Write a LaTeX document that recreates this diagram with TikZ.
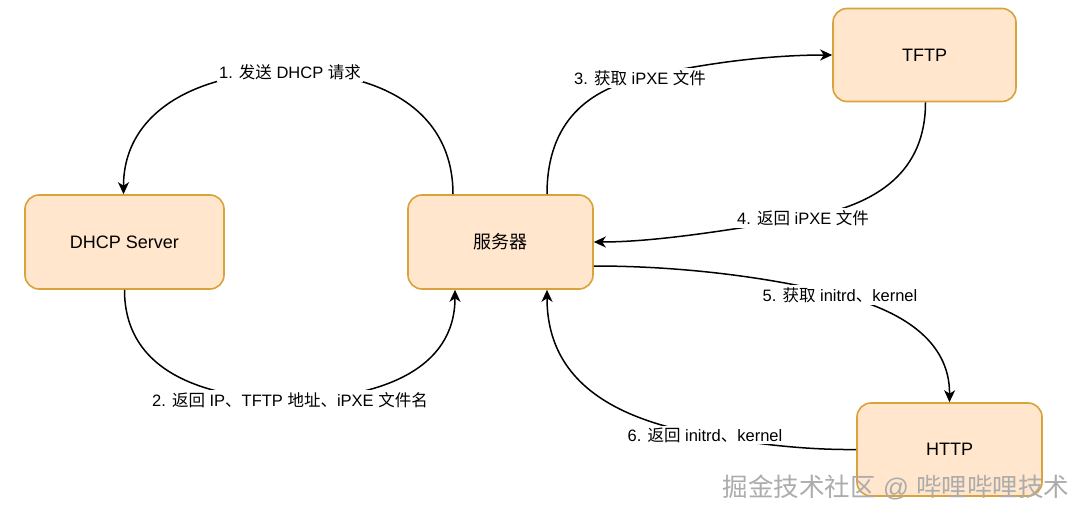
\documentclass[tikz,border=0pt]{standalone}
\usepackage{fontspec}
\setmainfont{Liberation Sans}
\newfontfamily\cjk{Noto Sans CJK SC}
\usetikzlibrary{arrows.meta}
\definecolor{boxfill}{HTML}{FFE6CC}
\definecolor{boxdraw}{HTML}{D9A23A}
\begin{document}
\begin{tikzpicture}[x=1pt,y=-1pt,
  box/.style={draw=boxdraw, fill=boxfill, line width=1.6pt, rounded corners=14pt,
    minimum height=94pt, inner sep=0pt, font=\fontsize{18}{22}\selectfont},
  lbl/.style={fill=white, inner sep=2pt, font=\fontsize{16.5}{20}\selectfont},
  conn/.style={line width=1.5pt, -{Stealth[length=12pt,width=11pt,inset=3.5pt]}},
  wm/.style={text=gray!65, font=\fontsize{25.5}{28}\selectfont}]
\useasboundingbox (0,0) rectangle (1080,516);
\fill[white] (0,0) rectangle (1080,516);

% nodes
\node[box, minimum width=199pt] (dhcp) at (124.5,242) {DHCP Server};
\node[box, minimum width=185pt] (srv) at (500.5,242) {\cjk 服务器};
\node[box, minimum width=183pt, minimum height=93pt] (tftp) at (924.5,55) {TFTP};
\node[box, minimum width=185pt, minimum height=93pt] (http) at (949.5,449.5) {HTTP};

% label anchor points
\coordinate (c1) at (290,72);
\coordinate (c2) at (290,400);
\coordinate (c3) at (640,78);
\coordinate (c4) at (803,218);
\coordinate (c5) at (840,295);
\coordinate (c6) at (705,435);

% connectors
\draw[conn] ([xshift=-47.5pt]srv.north) .. controls (453,110) and (380,72) .. (c1)
  .. controls (200,72) and (123.5,110) .. ([xshift=-1pt]dhcp.north);
\draw[conn] (dhcp.south) .. controls (124.5,370) and (200,398) .. (c2)
  .. controls (380,398) and (455,370) .. ([xshift=-45.5pt]srv.south);
\draw[conn] ([xshift=46.5pt]srv.north) .. controls (547,120) and (590,90) .. (c3)
  .. controls (690,66) and (760,55) .. (tftp.west);
\draw[conn] ([xshift=1pt]tftp.south) .. controls (925.5,170) and (880,205) .. (c4)
  .. controls (740,228) and (660,242) .. (srv.east);
\draw[conn] ([yshift=-24pt]srv.east) .. controls (700,266) and (790,282) .. (c5)
  .. controls (900,310) and (950,340) .. (http.north);
\draw[conn] (http.west) .. controls (810,450) and (760,445) .. (c6)
  .. controls (620,420) and (547,385) .. ([xshift=46.5pt]srv.south);

% labels
\node[lbl] (l1) at (c1) {1. {\cjk 发送} DHCP {\cjk 请求}};
\node[lbl] (l2) at (c2) {2. {\cjk 返回} IP{\cjk 、}TFTP {\cjk 地址、}iPXE {\cjk 文件名}};
\node[lbl] (l3) at (c3) {3. {\cjk 获取} iPXE {\cjk 文件}};
\node[lbl] (l4) at (c4) {4. {\cjk 返回} iPXE {\cjk 文件}};
\node[lbl] (l5) at (c5) {5. {\cjk 获取} initrd{\cjk 、}kernel};
\node[lbl] (l6) at (c6) {6. {\cjk 返回} initrd{\cjk 、}kernel};

% watermark
\node[wm] (wmark) at (896,487) {{\cjk 掘金技术社区} @ {\cjk 哔哩哔哩技术}};
\end{tikzpicture}
\end{document}
